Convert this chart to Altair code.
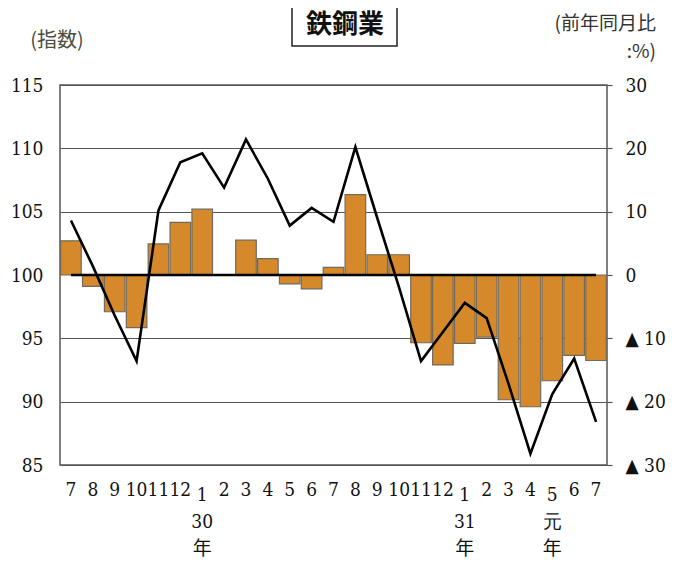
import altair as alt
import pandas as pd

# ---- data ----
months = ["7", "8", "9", "10", "11", "12", "1", "2", "3", "4", "5", "6",
          "7", "8", "9", "10", "11", "12", "1", "2", "3", "4", "5", "6", "7"]
index_vals = [104.3, 100.7, 96.8, 93.2, 105.1, 108.9, 109.6, 106.9, 110.7, 107.6,
              103.9, 105.3, 104.2, 110.1, 104.5, 99.0, 93.2, 95.5, 97.8, 96.6,
              91.4, 85.9, 90.6, 93.4, 88.4]
yoy_vals = [5.4, -1.8, -5.8, -8.3, 4.9, 8.3, 10.4, 0.0, 5.5, 2.6, -1.4, -2.2,
            1.2, 12.7, 3.2, 3.2, -10.7, -14.2, -10.8, -9.8, -19.7, -20.8,
            -16.7, -12.7, -13.5]
year_pos = [6, 18, 22]
year_nums = ["30", "31", "元"]
left_ticks = [85, 90, 95, 100, 105, 110, 115]
right_ticks = [-30, -20, -10, 0, 10, 20, 30]

W, H = 547, 380
keys = [f"m{i:02d}" for i in range(len(months))]
df = pd.DataFrame({"key": keys, "month": months, "index": index_vals,
                   "yoy": yoy_vals, "base": 100})
df["low"] = [i in year_pos for i in range(len(months))]
dfy = pd.DataFrame({"key": [keys[i] for i in year_pos], "num": year_nums, "nen": "年"})

NUMFONT = "DejaVu Serif Condensed"
NUMSIZE = 19
JPFONT = "Noto Sans CJK JP"

xenc = alt.X("key:N", sort=keys,
             scale=alt.Scale(paddingInner=0.06, paddingOuter=0.03), axis=None)

base = alt.Chart(df).encode(x=xenc)

bars = base.mark_bar(color="#D6892B", stroke="#6f6a5c", strokeWidth=1.2).encode(
    y=alt.Y("yoy:Q", scale=alt.Scale(domain=[-30, 30], nice=False),
            axis=alt.Axis(orient="right", values=right_ticks, title=None,
                          grid=False, domain=False, tickSize=5, tickColor="#555",
                          tickWidth=1.2, labelPadding=13, labelAlign="left",
                          labelFont=NUMFONT, labelFontSize=NUMSIZE, labelColor="#111",
                          labelExpr="datum.value < 0 ? '▲ ' + (-datum.value) : '' + datum.value"))
)

left_axis = alt.Axis(orient="left", values=left_ticks, title=None, grid=True,
                     gridColor="#555", gridWidth=1.2,
                     gridOpacity={"condition": {"test": "datum.value === 100", "value": 0}, "value": 1},
                     domain=False, ticks=False, labelPadding=17,
                     labelFont=NUMFONT, labelFontSize=NUMSIZE, labelColor="#111")
lscale = alt.Scale(domain=[85, 115], nice=False)

zero_line = base.mark_line(color="black", strokeWidth=2.6).encode(
    y=alt.Y("base:Q", scale=lscale, axis=left_axis))
idx_line = base.mark_line(color="black", strokeWidth=2.6).encode(
    y=alt.Y("index:Q", scale=lscale, axis=left_axis))

inner = alt.layer(zero_line, idx_line)

month_norm = base.mark_text(font=NUMFONT, fontSize=NUMSIZE, color="#111", baseline="middle").encode(
    text="month:N", y=alt.value(H + 25)).transform_filter("!datum.low")
month_low = base.mark_text(font=NUMFONT, fontSize=NUMSIZE, color="#111", baseline="middle").encode(
    text="month:N", y=alt.value(H + 30)).transform_filter("datum.low")

ybase = alt.Chart(dfy).encode(x=xenc)
year_num = ybase.mark_text(font=NUMFONT, fontSize=NUMSIZE, color="#111", baseline="middle").encode(
    text="num:N", y=alt.value(H + 57))
year_nen = ybase.mark_text(font=JPFONT, fontSize=19, color="#111", baseline="middle").encode(
    text="nen:N", y=alt.value(H + 84))

hdr = pd.DataFrame({"t": ["鉄鋼業"]})
title_box = alt.Chart(hdr).mark_rect(fill="white", stroke="#222", strokeWidth=1.5).encode(
    x=alt.value(232), x2=alt.value(337), y=alt.value(-79), y2=alt.value(-39))
title_txt = alt.Chart(hdr).mark_text(font=JPFONT, fontSize=26, fontWeight="bold",
                                     color="#111", baseline="middle", align="center").encode(
    text="t:N", x=alt.value(285), y=alt.value(-60))

lt = alt.Chart(pd.DataFrame({"t": ["(指数)"]})).mark_text(
    font=JPFONT, fontSize=20, color="#4d4d40", baseline="middle", align="center").encode(
    text="t:N", x=alt.value(-3), y=alt.value(-44))
rt1 = alt.Chart(pd.DataFrame({"t": ["(前年同月比"]})).mark_text(
    font=JPFONT, fontSize=19, color="#333", baseline="middle", align="right").encode(
    text="t:N", x=alt.value(596), y=alt.value(-61))
rt2 = alt.Chart(pd.DataFrame({"t": [":%)"]})).mark_text(
    font=JPFONT, fontSize=19, color="#333", baseline="middle", align="right").encode(
    text="t:N", x=alt.value(596), y=alt.value(-33))

chart = alt.layer(
    bars, inner, month_norm, month_low, year_num, year_nen,
    title_box, title_txt, lt, rt1, rt2
).resolve_scale(y="independent").properties(
    width=W, height=H,
    autosize=alt.AutoSizeParams(type="none"),
    padding={"left": 52, "top": 77, "right": 70, "bottom": 97},
    background="white",
).configure_view(stroke="#555", strokeWidth=1.5)

chart.save("out.html", embed_options={"renderer": "svg", "actions": False})
